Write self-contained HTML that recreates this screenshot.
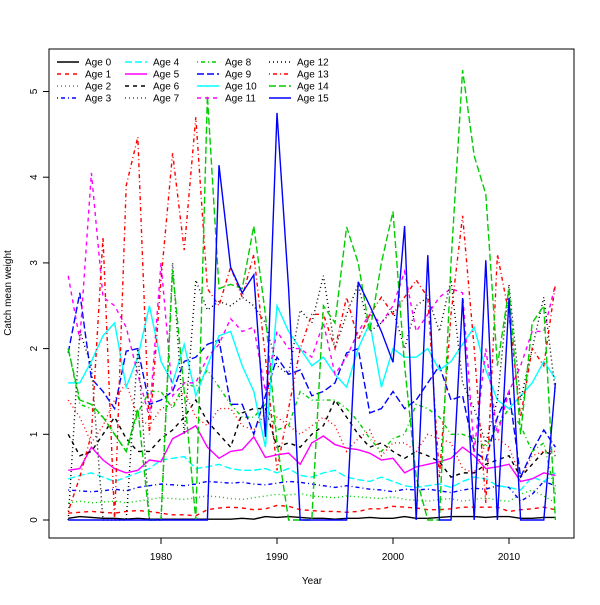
<!DOCTYPE html>
<html><head><meta charset="utf-8"><style>
body{margin:0;background:#fff}
svg{font-family:"Liberation Sans",sans-serif}
</style></head><body>
<svg id="chart" width="600" height="600">
<rect x="0" y="0" width="600" height="600" fill="#fff"/>
<g id="plot"></g>
<rect x="49" y="49" width="525" height="489" fill="none" stroke="#000"/>
<g id="axes"></g>
<g id="legend"></g>
<text x="312" y="584" font-size="10" text-anchor="middle">Year</text>
<text x="11" y="293" font-size="10" text-anchor="middle" transform="rotate(-90 11 293)">Catch mean weight</text>
</svg>
<script>
const years = [];
for (let y = 1972; y <= 2014; y++) years.push(y);
const xTicks = [1980, 1990, 2000, 2010];
const yTicks = [0, 1, 2, 3, 4, 5];
const seriesNames = ["Age 0","Age 1","Age 2","Age 3","Age 4","Age 5","Age 6","Age 7","Age 8","Age 9","Age 10","Age 11","Age 12","Age 13","Age 14","Age 15"];
const age0 = [0.02,0.04,0.03,0.02,0.02,0.01,0.02,0.01,0.01,0.01,0.01,0.01,0.01,0.01,0.01,0.02,0.01,0.04,0.03,0.04,0.03,0.02,0.02,0.01,0.02,0.02,0.03,0.02,0.02,0.04,0.02,0.02,0.03,0.04,0.04,0.04,0.03,0.04,0.04,0.02,0.02,0.03,0.03];
const age1 = [0.08,0.09,0.1,0.09,0.08,0.1,0.11,0.1,0.08,0.06,0.06,0.05,0.12,0.14,0.15,0.14,0.12,0.13,0.17,0.16,0.12,0.11,0.1,0.1,0.09,0.1,0.13,0.13,0.16,0.15,0.14,0.12,0.12,0.13,0.15,0.15,0.15,0.15,0.1,0.12,0.13,0.15,0.12];
const age2 = [0.2,0.22,0.2,0.21,0.22,0.2,0.22,0.24,0.26,0.25,0.24,0.26,0.28,0.27,0.25,0.24,0.26,0.28,0.3,0.29,0.31,0.28,0.27,0.26,0.28,0.27,0.26,0.25,0.27,0.24,0.23,0.22,0.24,0.25,0.22,0.24,0.26,0.23,0.22,0.3,0.35,0.28,0.2];
const age3 = [0.35,0.34,0.33,0.34,0.36,0.34,0.38,0.4,0.42,0.41,0.4,0.42,0.45,0.44,0.43,0.44,0.42,0.41,0.43,0.45,0.44,0.42,0.4,0.38,0.4,0.38,0.36,0.35,0.33,0.36,0.35,0.36,0.34,0.32,0.35,0.37,0.36,0.4,0.38,0.22,0.3,0.45,0.4];
const age4 = [0.48,0.52,0.55,0.5,0.45,0.5,0.55,0.6,0.7,0.72,0.74,0.6,0.62,0.65,0.6,0.58,0.58,0.6,0.55,0.6,0.52,0.5,0.55,0.58,0.5,0.47,0.45,0.5,0.45,0.4,0.38,0.4,0.42,0.38,0.45,0.5,0.48,0.4,0.38,0.35,0.5,0.45,0.55];
const age5 = [0.58,0.6,0.85,0.7,0.6,0.55,0.58,0.7,0.68,0.95,1.02,1.1,0.85,0.72,0.8,0.82,0.97,0.73,0.76,0.78,0.65,0.9,0.98,0.88,0.84,0.82,0.78,0.7,0.72,0.55,0.62,0.65,0.68,0.72,0.85,0.75,0.6,0.62,0.65,0.45,0.48,0.55,0.52];
const age6 = [1.0,0.75,0.8,1.0,1.2,0.95,0.8,0.8,0.95,1.05,1.2,1.4,1.15,1.0,0.85,1.25,1.3,1.3,0.85,0.9,0.85,1.0,1.1,1.4,1.2,1.0,0.85,0.9,0.8,0.72,0.8,0.75,0.68,0.5,0.55,0.55,0.65,0.7,0.75,0.5,0.65,0.8,0.75];
const age7 = [1.4,1.2,0.9,1.1,1.4,1.6,1.2,1.1,1.3,1.35,1.5,1.2,1.1,1.3,1.3,1.1,1.05,1.25,1.2,1.1,1.0,1.1,1.2,1.1,0.8,0.95,1.05,0.75,0.9,0.9,0.8,1.0,0.95,0.9,0.6,0.55,0.9,0.95,0.85,0.5,0.75,0.8,0.8];
const age8 = [2.0,1.35,1.3,1.2,1.0,0.8,1.25,1.5,1.5,1.3,1.6,1.55,1.75,1.55,1.35,1.2,1.2,1.35,1.05,1.1,1.5,1.4,1.4,1.4,1.3,1.15,0.95,0.8,0.95,1.0,1.35,1.3,1.2,1.0,1.0,0.95,0.85,1.1,1.3,1.1,0.8,0.9,0.3];
const age9 = [1.95,2.65,1.65,1.5,1.3,1.97,2.0,1.35,1.4,1.5,1.85,1.9,2.05,2.1,1.35,1.35,1.0,1.45,1.9,1.7,1.75,1.45,1.5,1.6,1.95,2.0,1.25,1.3,1.5,1.3,1.4,1.6,1.8,1.4,1.45,0.8,0.7,1.2,1.5,0.5,0.8,1.05,0.85];
const age10 = [1.6,1.6,1.85,2.15,2.3,1.55,1.9,2.5,1.85,1.6,2.05,1.45,1.8,2.15,2.2,1.8,1.5,0.85,2.5,2.2,2.0,1.8,1.9,1.7,1.55,2.0,2.3,1.55,2.0,1.9,1.9,2.0,1.75,1.85,2.05,2.25,1.75,1.4,1.3,1.45,1.6,1.85,1.65];
const age11 = [2.85,2.1,4.05,2.6,2.5,2.25,1.7,1.2,3.0,1.45,1.6,1.6,1.9,2.05,2.35,2.2,2.25,1.5,2.2,2.0,2.0,1.9,2.3,1.7,1.9,2.2,2.4,2.3,2.5,2.9,2.2,2.4,2.6,2.7,2.65,0.8,2.0,1.0,1.5,1.8,2.2,2.2,2.75];
const age12 = [0.0,2.2,1.8,0.0,0.0,0.0,2.0,0.0,0.0,3.0,1.0,2.8,2.45,2.55,2.5,2.6,2.5,2.3,1.8,1.7,2.45,2.3,2.85,2.0,2.4,2.75,2.2,2.3,2.45,2.0,2.5,2.6,2.2,2.8,1.6,1.3,0.9,1.4,2.75,1.4,2.0,2.6,1.5];
const age13 = [0.1,0.5,1.0,3.3,0.0,3.9,4.47,1.0,2.8,4.28,3.15,4.7,2.7,2.5,2.95,2.6,3.1,1.9,0.58,1.3,2.0,2.4,2.4,2.0,2.6,2.1,2.4,2.6,2.4,2.6,2.8,2.6,0.5,2.4,3.55,2.0,0.2,3.1,2.4,1.2,2.0,1.8,2.75];
const age14 = [2.0,1.4,1.35,1.2,1.0,0.8,1.3,0.0,0.0,2.92,1.5,0.0,4.95,2.7,2.75,2.7,3.43,2.4,0.9,0.0,0.0,0.0,2.5,2.3,3.42,3.0,2.2,3.0,3.6,1.8,0.5,0.0,0.0,3.0,5.25,4.25,3.8,1.8,2.7,1.0,2.3,2.5,0.0];
const age15 = [0,0,0,0,0,0,0,0,0,0,0,0,0,4.14,2.95,2.65,2.86,0.97,4.75,2.7,0,0,0,0,0,2.78,2.5,2.2,1.84,3.43,0,3.09,0,0,2.59,0,3.03,0,2.59,0,0,0,1.6];
const seriesValues = [age0,age1,age2,age3,age4,age5,age6,age7,age8,age9,age10,age11,age12,age13,age14,age15];

const colors = ["#000000","#ff0000","#00cd00","#0000ff","#00ffff","#ff00ff"];
const dashes = ["none","4 4","1 3","1 3 4 3","7 3"];
const xScale = y => 161 + (y - 1980) * 11.6;
const yScale = v => 520 - v * 85.7;
const NS = "http://www.w3.org/2000/svg";
const plot = document.getElementById("plot");
seriesValues.forEach((vals, i) => {
  const p = document.createElementNS(NS, "polyline");
  p.setAttribute("points", vals.map((v, j) => xScale(years[j]) + "," + yScale(v)).join(" "));
  p.setAttribute("fill", "none");
  p.setAttribute("stroke", colors[i % 6]);
  p.setAttribute("stroke-width", "1.4");
  if (dashes[i % 5] !== "none") p.setAttribute("stroke-dasharray", dashes[i % 5]);
  
  
  plot.appendChild(p);
});
const axes = document.getElementById("axes");
xTicks.forEach(t => {
  const l = document.createElementNS(NS, "line");
  l.setAttribute("x1", xScale(t)); l.setAttribute("x2", xScale(t));
  l.setAttribute("y1", 538); l.setAttribute("y2", 544); l.setAttribute("stroke", "#000");
  
  
  axes.appendChild(l);
  const tx = document.createElementNS(NS, "text");
  tx.setAttribute("x", xScale(t)); tx.setAttribute("y", 560);
  tx.setAttribute("font-size", "10"); tx.setAttribute("text-anchor", "middle");
  tx.textContent = t;
  
  
  axes.appendChild(tx);
});
yTicks.forEach(t => {
  const l = document.createElementNS(NS, "line");
  l.setAttribute("x1", 43); l.setAttribute("x2", 49);
  l.setAttribute("y1", yScale(t)); l.setAttribute("y2", yScale(t)); l.setAttribute("stroke", "#000");
  
  
  axes.appendChild(l);
  const tx = document.createElementNS(NS, "text");
  const yy = yScale(t);
  tx.setAttribute("x", 37); tx.setAttribute("y", yy);
  tx.setAttribute("font-size", "10"); tx.setAttribute("text-anchor", "middle");
  tx.setAttribute("transform", "rotate(-90 37 " + yy + ")");
  tx.textContent = t;
  
  
  axes.appendChild(tx);
});
const legend = document.getElementById("legend");
const colX = [57, 125, 197, 269];
seriesNames.forEach((n, i) => {
  const cx = colX[Math.floor(i / 4)], cy = 62 + (i % 4) * 12;
  const g = document.createElementNS(NS, "g");
  
  
  const l = document.createElementNS(NS, "line");
  l.setAttribute("x1", cx); l.setAttribute("x2", cx + 22);
  l.setAttribute("y1", cy); l.setAttribute("y2", cy);
  l.setAttribute("stroke", colors[i % 6]); l.setAttribute("stroke-width", "1.4");
  if (dashes[i % 5] !== "none") l.setAttribute("stroke-dasharray", dashes[i % 5]);
  g.appendChild(l);
  const tx = document.createElementNS(NS, "text");
  tx.setAttribute("x", cx + 28); tx.setAttribute("y", cy + 3.5);
  tx.setAttribute("font-size", "10");
  tx.textContent = n;
  g.appendChild(tx);
  legend.appendChild(g);
});
</script>
</body></html>
